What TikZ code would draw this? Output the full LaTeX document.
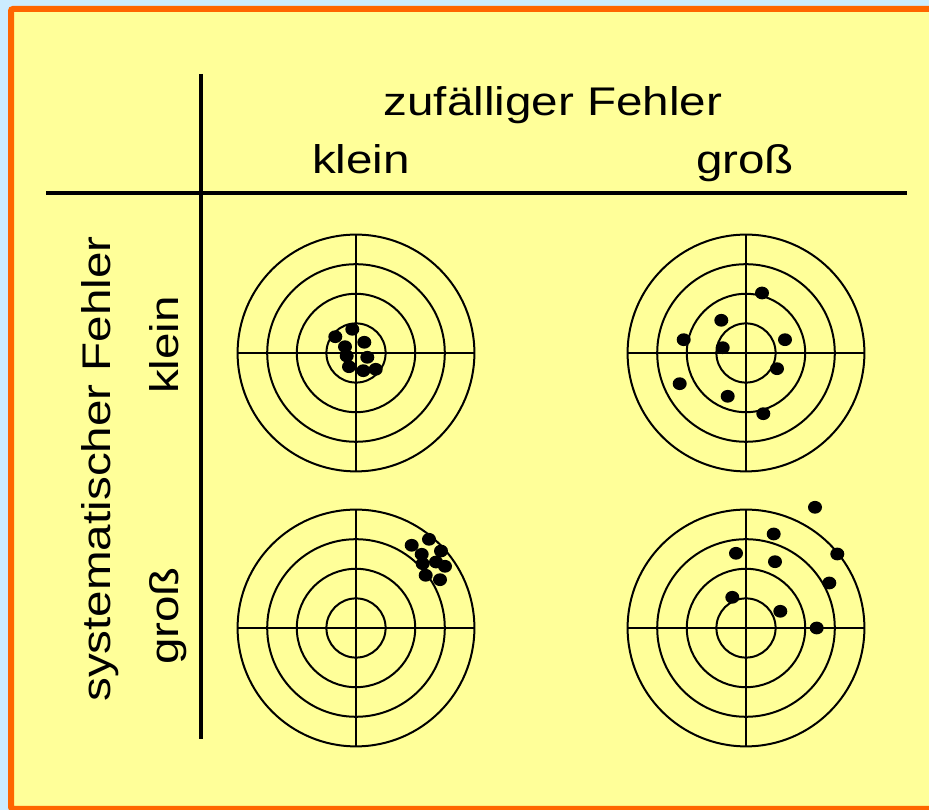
\documentclass[tikz,border=0pt]{standalone}
\usepackage{fontspec}
\newfontfamily\labelfont{Liberation Sans}[FakeStretch=1.19]
\definecolor{sheet}{RGB}{255,255,153}
\definecolor{rim}{RGB}{255,102,0}
\definecolor{sky}{RGB}{204,236,255}
\begin{document}
\begin{tikzpicture}[x=1pt, y=1pt,
  lbl/.style={font=\labelfont\fontsize{40}{48}\selectfont, inner sep=0pt, anchor=base},
  ring/.style={line width=2pt},
  rule/.style={line width=4pt},
  hit/.style={fill=black}]
\useasboundingbox (0,0) rectangle (929,810);
\fill[sky] (0,0) rectangle (929,810);
\filldraw[fill=sheet, draw=rim, line width=6pt, rounded corners=2pt] (11,1) rectangle (940,801);

\coordinate (vtop) at (201,736);
\coordinate (vbot) at (201,71);
\coordinate (hleft) at (46,617);
\coordinate (hright) at (907,617);
\draw[rule] (vtop) -- (vbot);
\draw[rule] (hleft) -- (hright);

\node[lbl] (title) at (553,694) {zufälliger Fehler};
\node[lbl] (colsmall) at (361,636) {klein};
\node[lbl] (colbig) at (745,636) {groß};
\node[lbl, rotate=90] (rowtitle) at (110,341) {systematischer Fehler};
\node[lbl, rotate=90] (rowsmall) at (178,465) {klein};
\node[lbl, rotate=90] (rowbig) at (178,194) {groß};

\foreach \cx/\cy in {356/457, 746/457, 356/182, 746/182} {
  \foreach \r in {29.6, 59.2, 88.8, 118.4}
    \draw[ring] (\cx,\cy) circle[radius=\r];
  \draw[ring] (\cx-118.4,\cy) -- (\cx+118.4,\cy);
  \draw[ring] (\cx,\cy-118.4) -- (\cx,\cy+118.4);
}

\begin{scope}[shift={(356,457)}]
\foreach \p in {(-20.7,16.3), (-3.7,23.7), (8.3,10.7), (-11,6.3), (-9.3,-3),
                (11.3,-4.3), (-7,-13.7), (7.3,-17.7), (19.7,-16.3)}
  \fill[hit] \p circle[x radius=7, y radius=6.4];
\end{scope}

\begin{scope}[shift={(746,457)}]
\foreach \p in {(16,60), (-24.7,32.7), (-62.3,13.3), (-23.3,5.3), (39,13.3),
                (31,-15.7), (-66.3,-30.7), (-18.3,-43.3), (17.3,-60.7)}
  \fill[hit] \p circle[x radius=7, y radius=6.4];
\end{scope}

\begin{scope}[shift={(356,182)}]
\foreach \p in {(55.7,82.7), (73,88.7), (85,77), (65.7,73.7), (66.7,64.3),
                (80,66), (89,61.7), (69.7,52.7), (84,48.3)}
  \fill[hit] \p circle[x radius=7, y radius=6.4];
\end{scope}

\begin{scope}[shift={(746,182)}]
\foreach \p in {(69,120.7), (27.7,94), (91.3,74), (-10,74.7), (29,66.3),
                (83.3,45), (-13.7,30.7), (34.3,16.7), (70.7,0)}
  \fill[hit] \p circle[x radius=7, y radius=6.4];
\end{scope}
\end{tikzpicture}
\end{document}
